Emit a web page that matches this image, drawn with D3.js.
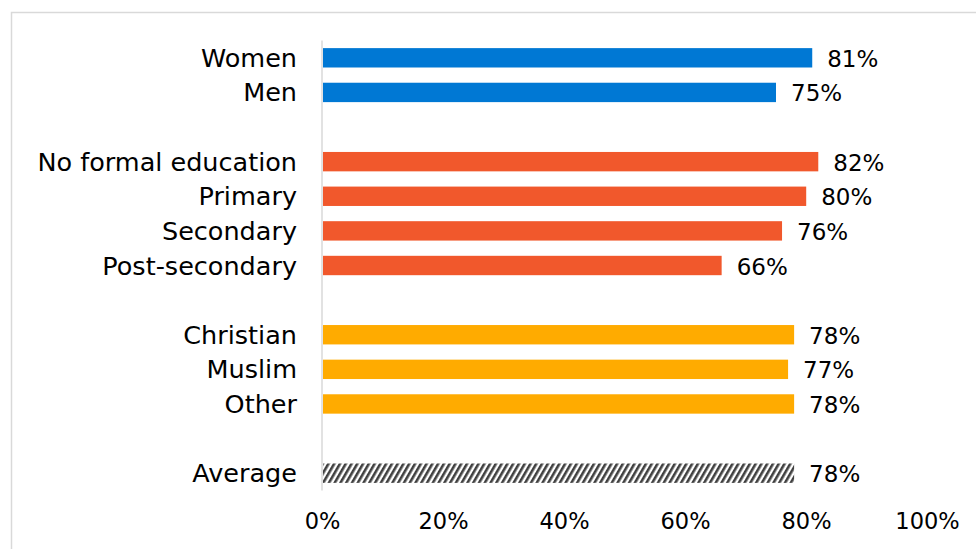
<!DOCTYPE html>
<html>
<head>
<meta charset="utf-8">
<script src="https://cdn.jsdelivr.net/npm/d3@7"></script>
<style>
  html, body { margin: 0; padding: 0; background: #fff; }
  svg { display: block; }
  text { font-family: "DejaVu Sans", sans-serif; fill: #000; }
</style>
</head>
<body>
<svg id="chart" width="976" height="549"></svg>
<script>
// ---- data ----
const categories = ["Women", "Men", "", "No formal education", "Primary", "Secondary", "Post-secondary", " ", "Christian", "Muslim", "Other", "  ", "Average"];
const values = [81, 75, null, 82, 80, 76, 66, null, 78, 77, 78, null, 78];
const groups = ["gender", "gender", null, "education", "education", "education", "education", null, "religion", "religion", "religion", null, "average"];
const tickValues = [0, 20, 40, 60, 80, 100];
const groupColors = { gender: "#0078D4", education: "#F1582C", religion: "#FFAB00" };

const svg = d3.select("#chart");

// chart border (extends beyond the visible area)
svg.append("rect")
  .attr("x", 11.5).attr("y", 12.5)
  .attr("width", 1000).attr("height", 600)
  .attr("fill", "none").attr("stroke", "#d9d9d9").attr("stroke-width", 1.5);

// hatch pattern
const defs = svg.append("defs");
const pat = defs.append("pattern")
  .attr("id", "hatch").attr("patternUnits", "userSpaceOnUse")
  .attr("width", 5).attr("height", 5)
  .attr("patternTransform", "rotate(30)");
pat.append("rect").attr("width", 5).attr("height", 5).attr("fill", "#ffffff");
pat.append("rect").attr("x", 0).attr("width", 2.6).attr("height", 5).attr("fill", "#404040");

const x = d3.scaleLinear().domain([0, 100]).range([323, 927]);
const y = d3.scaleBand().domain(categories).range([40.5, 490.5]).paddingInner(0.44).paddingOuter(0.22);

// category labels
svg.append("g").selectAll("text")
  .data(categories.map((c, i) => ({ c, i })).filter(d => values[d.i] !== null))
  .join("text")
  .attr("x", 297)
  .attr("y", d => y(d.c) + y.bandwidth() / 2)
  .attr("text-anchor", "end")
  .attr("dominant-baseline", "central")
  .style("font-size", "25.5px")
  .text(d => d.c);

// bars
const rows = categories.map((c, i) => ({ c, v: values[i], g: groups[i] })).filter(d => d.v !== null);
svg.append("g").selectAll("rect")
  .data(rows)
  .join("rect")
  .attr("x", x(0))
  .attr("y", d => y(d.c))
  .attr("width", d => x(d.v) - x(0))
  .attr("height", y.bandwidth())
  .attr("fill", d => d.g === "average" ? "url(#hatch)" : groupColors[d.g]);

// value labels
svg.append("g").selectAll("text")
  .data(rows)
  .join("text")
  .attr("x", d => x(d.v) + 15)
  .attr("y", d => y(d.c) + y.bandwidth() / 2 + 1)
  .attr("dominant-baseline", "central")
  .style("font-size", "23px")
  .text(d => d.v + "%");

// vertical axis line
svg.append("line")
  .attr("x1", 322).attr("x2", 322)
  .attr("y1", 40.5).attr("y2", 490.5)
  .attr("stroke", "#d9d9d9").attr("stroke-width", 1.5);

// x axis (labels only)
const xAxis = d3.axisBottom(d3.scaleLinear().domain([0, 100]).range([322, 927]))
  .tickValues(tickValues)
  .tickSize(0)
  .tickPadding(0)
  .tickFormat(d => d + "%");
const ax = svg.append("g").attr("transform", "translate(0,513)").call(xAxis);
ax.select(".domain").remove();
ax.selectAll("text")
  .style("font-family", '"DejaVu Sans", sans-serif')
  .style("font-size", "22.5px")
  .attr("fill", "#000");
</script>
</body>
</html>
